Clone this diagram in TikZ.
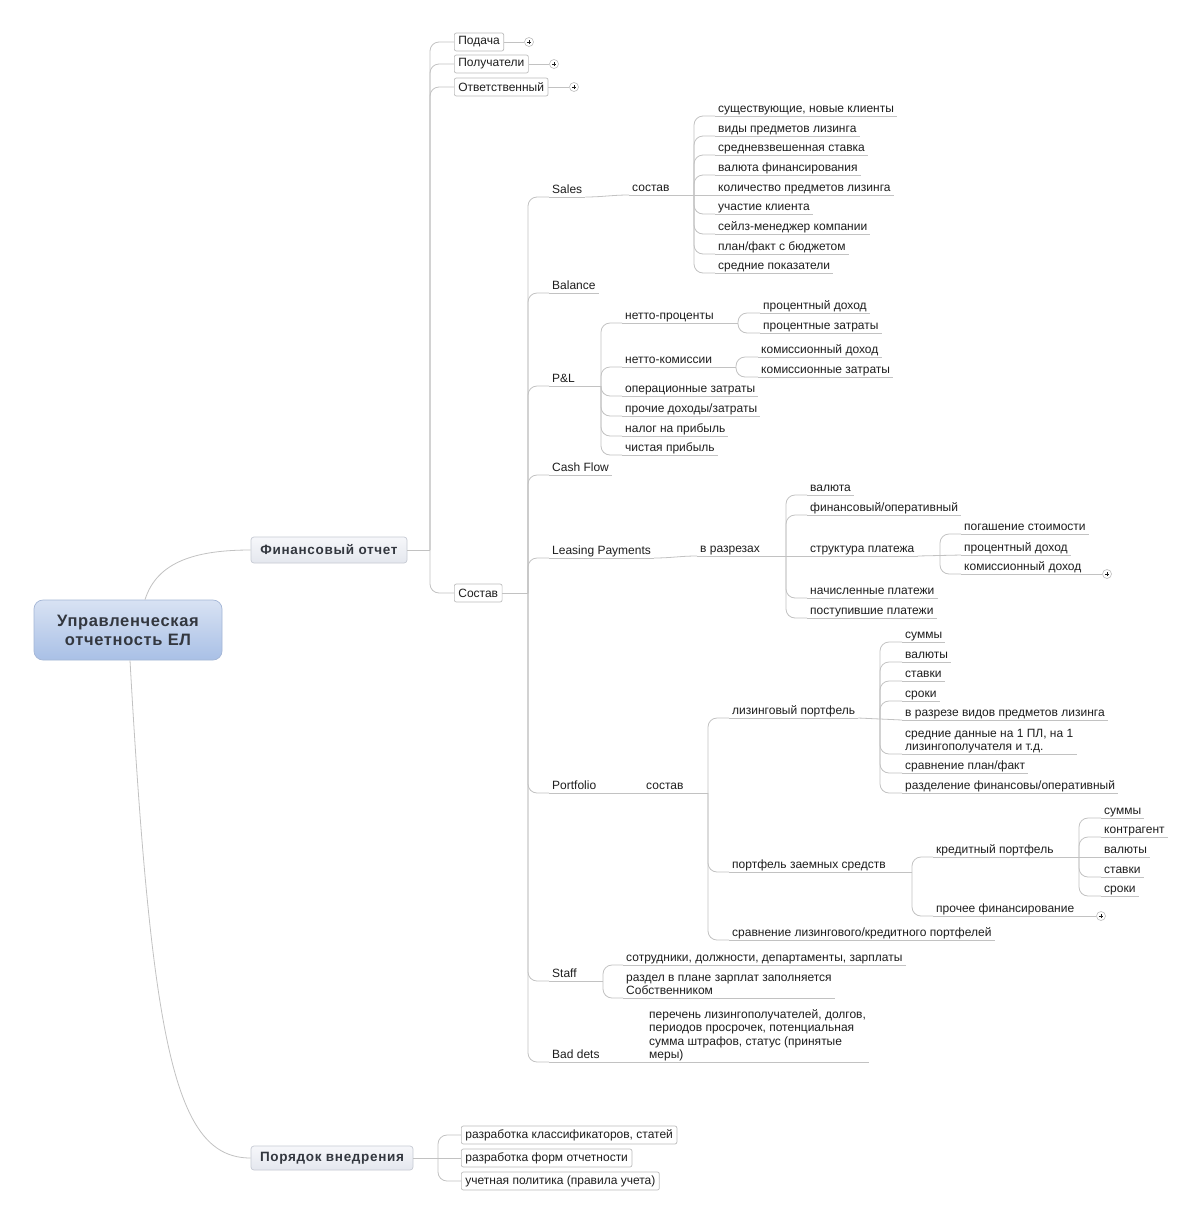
\documentclass[tikz,border=0pt]{standalone}
\usepackage{fontspec}
\setmainfont{Liberation Sans}

\definecolor{lgray}{HTML}{C2C2C2}
\definecolor{bgray}{HTML}{BDBDBD}
\definecolor{txt}{HTML}{1E1E1E}
\definecolor{rtop}{HTML}{D8E2F3}
\definecolor{rbot}{HTML}{A9C0E6}
\definecolor{rline}{HTML}{A4B6D6}
\definecolor{ttop}{HTML}{F6F7FA}
\definecolor{tbot}{HTML}{E4E7EE}
\definecolor{tline}{HTML}{C6CAD3}
\definecolor{ttxt}{HTML}{33373F}

\newcommand\leaffont{\fontsize{12}{13.5}\selectfont}
\newcommand\topicfont{\fontsize{13.5}{15}\selectfont\bfseries\addfontfeatures{LetterSpace=5}}
\newcommand\rootfont{\fontsize{16.5}{19}\selectfont\bfseries\addfontfeatures{LetterSpace=4}}
\newcommand\ulstrut{\rule[-3.2pt]{0pt}{10pt}}

\tikzset{
    lnk/.style={draw=lgray, line width=0.8pt},
    elbow/.style={lnk, rounded corners=9pt},
    uline/.style={draw=lgray, line width=0.8pt},
    leaf/.style={font=\leaffont, text=txt, inner xsep=3pt, inner ysep=0pt,
        anchor=south west, align=left, execute at end node=\ulstrut,
        append after command={(\tikzlastnode.south west) edge[uline] (\tikzlastnode.south east)}},
    tbox/.style={font=\leaffont, text=txt, draw=bgray, fill=white, rounded corners=2pt,
        inner xsep=4pt, inner ysep=0pt, minimum height=18pt, anchor=west, line width=0.7pt},
    topic/.style={font=\topicfont, text=ttxt, draw=tline, top color=ttop, bottom color=tbot,
        rounded corners=3pt, inner sep=0pt, line width=0.7pt},
    rootbox/.style={font=\rootfont, text=ttxt, draw=rline, top color=rtop, bottom color=rbot,
        rounded corners=9pt, align=center, minimum width=188pt, minimum height=60pt, line width=0.7pt},
    plus/.style={circle, draw=bgray, fill=white, minimum size=9pt, inner sep=0pt, line width=0.6pt,
        path picture={\draw[txt, line width=0.6pt]
            ([xshift=-2.2pt]path picture bounding box.center) -- ([xshift=2.2pt]path picture bounding box.center)
            ([yshift=-2.2pt]path picture bounding box.center) -- ([yshift=2.2pt]path picture bounding box.center);}}
}

\begin{document}
\begin{tikzpicture}[x=1pt, y=-1pt]
    \useasboundingbox[fill=white] (0,0) rectangle (1200,1224);

    % main topics
    \node[rootbox] (root) at (128,630) {Управленческая\\отчетность ЕЛ};
    \node[topic, minimum width=156pt, minimum height=26pt] (fin) at (329,550) {Финансовый отчет};
    \node[topic, minimum width=162pt, minimum height=24pt] (impl) at (332,1158) {Порядок внедрения};

    \draw[lnk] ([xshift=17pt]root.north) .. controls +(12,-38) and +(-55,0) .. (fin.west);
    \draw[lnk] ([xshift=2pt]root.south) .. controls +(22,390) and +(-75,0) .. (impl.west);

    % Финансовый отчет
    \node[tbox] (podacha) at (454,42) {Подача};
    \node[tbox] (poluch) at (454,64) {Получатели};
    \node[tbox] (otvet) at (454,87) {Ответственный};
    \node[tbox] (sostav) at (454,593) {Состав};
    \node[plus] (pl1) at (529,42) {};
    \node[plus] (pl2) at (554,64) {};
    \node[plus] (pl3) at (574,87) {};
    \draw[lnk] (podacha.east) -- (pl1);
    \draw[lnk] (poluch.east) -- (pl2);
    \draw[lnk] (otvet.east) -- (pl3);

    \coordinate (jfin) at (430,0 |- fin.east);
    \draw[lnk] (fin.east) -- (jfin);
    \draw[elbow] (jfin) |- (podacha.west);
    \draw[elbow] (jfin) |- (poluch.west);
    \draw[elbow] (jfin) |- (otvet.west);
    \draw[elbow] (jfin) |- (sostav.west);

    % Состав
    \node[leaf] (sales) at (549,197) {Sales};
    \node[leaf] (balance) at (549,293) {Balance};
    \node[leaf] (pnl) at (549,386) {P\&L};
    \node[leaf] (cash) at (549,475) {Cash Flow};
    \node[leaf] (lease) at (549,558) {Leasing Payments};
    \node[leaf] (portf) at (549,793) {Portfolio};
    \node[leaf] (staff) at (549,981) {Staff};
    \node[leaf] (bad) at (549,1062) {Bad dets};

    \coordinate (jsost) at (528,0 |- sostav.east);
    \draw[lnk] (sostav.east) -- (jsost);
    \draw[elbow] (jsost) |- (sales.south west);
    \draw[elbow] (jsost) |- (balance.south west);
    \draw[elbow] (jsost) |- (pnl.south west);
    \draw[elbow] (jsost) |- (cash.south west);
    \draw[elbow] (jsost) |- (lease.south west);
    \draw[elbow] (jsost) |- (portf.south west);
    \draw[elbow] (jsost) |- (staff.south west);
    \draw[elbow] (jsost) |- (bad.south west);

    % Sales
    \node[leaf] (ssost) at (629,195) {состав};
    \draw[lnk] (sales.south east) to[out=0,in=180] (ssost.south west);
    \node[leaf] (s1) at (715,116) {существующие, новые клиенты};
    \node[leaf] (s2) at (715,136) {виды предметов лизинга};
    \node[leaf] (s3) at (715,155) {средневзвешенная ставка};
    \node[leaf] (s4) at (715,175) {валюта финансирования};
    \node[leaf] (s5) at (715,195) {количество предметов лизинга};
    \node[leaf] (s6) at (715,214) {участие клиента};
    \node[leaf] (s7) at (715,234) {сейлз-менеджер компании};
    \node[leaf] (s8) at (715,254) {план/факт с бюджетом};
    \node[leaf] (s9) at (715,273) {средние показатели};
    \coordinate (jsal) at (694,0 |- ssost.south east);
    \draw[lnk] (ssost.south east) -- (s5.south west);
    \draw[elbow] (jsal) |- (s1.south west);
    \draw[elbow] (jsal) |- (s2.south west);
    \draw[elbow] (jsal) |- (s3.south west);
    \draw[elbow] (jsal) |- (s4.south west);
    \draw[elbow] (jsal) |- (s6.south west);
    \draw[elbow] (jsal) |- (s7.south west);
    \draw[elbow] (jsal) |- (s8.south west);
    \draw[elbow] (jsal) |- (s9.south west);

    % P&L
    \node[leaf] (netp) at (622,323) {нетто-проценты};
    \node[leaf] (netk) at (622,367) {нетто-комиссии};
    \node[leaf] (oper) at (622,396) {операционные затраты};
    \node[leaf] (proch) at (622,416) {прочие доходы/затраты};
    \node[leaf] (nalog) at (622,436) {налог на прибыль};
    \node[leaf] (chist) at (622,455) {чистая прибыль};
    \coordinate (jpnl) at (601,0 |- pnl.south east);
    \draw[lnk] (pnl.south east) -- (jpnl);
    \draw[elbow] (jpnl) |- (netp.south west);
    \draw[elbow] (jpnl) |- (netk.south west);
    \draw[elbow] (jpnl) |- (oper.south west);
    \draw[elbow] (jpnl) |- (proch.south west);
    \draw[elbow] (jpnl) |- (nalog.south west);
    \draw[elbow] (jpnl) |- (chist.south west);

    \node[leaf] (pdoh) at (760,313) {процентный доход};
    \node[leaf] (pzat) at (760,333) {процентные затраты};
    \coordinate (jnetp) at (738,0 |- netp.south east);
    \draw[lnk] (netp.south east) -- (jnetp);
    \draw[elbow] (jnetp) |- (pdoh.south west);
    \draw[elbow] (jnetp) |- (pzat.south west);

    \node[leaf] (kdoh) at (758,357) {комиссионный доход};
    \node[leaf] (kzat) at (758,377) {комиссионные затраты};
    \coordinate (jnetk) at (736,0 |- netk.south east);
    \draw[lnk] (netk.south east) -- (jnetk);
    \draw[elbow] (jnetk) |- (kdoh.south west);
    \draw[elbow] (jnetk) |- (kzat.south west);

    % Leasing Payments
    \node[leaf] (razr) at (697,556) {в разрезах};
    \draw[lnk] (lease.south east) to[out=0,in=180] (razr.south west);
    \node[leaf] (val) at (807,495) {валюта};
    \node[leaf] (finop) at (807,515) {финансовый/оперативный};
    \node[leaf] (strukt) at (807,556) {структура платежа};
    \node[leaf] (nachisl) at (807,598) {начисленные платежи};
    \node[leaf] (postup) at (807,618) {поступившие платежи};
    \coordinate (jrazr) at (786,0 |- razr.south east);
    \draw[lnk] (razr.south east) -- (strukt.south west);
    \draw[elbow] (jrazr) |- (val.south west);
    \draw[elbow] (jrazr) |- (finop.south west);
    \draw[elbow] (jrazr) |- (nachisl.south west);
    \draw[elbow] (jrazr) |- (postup.south west);

    \node[leaf] (pogash) at (961,534) {погашение стоимости};
    \node[leaf] (lpdoh) at (961,555) {процентный доход};
    \node[leaf] (lkdoh) at (961,574) {комиссионный доход};
    \node[plus] (pl4) at (1107,574) {};
    \draw[lnk] (lkdoh.south east) -- (pl4);
    \coordinate (jstr) at (940,0 |- strukt.south east);
    \draw[lnk] (strukt.south east) -- (lpdoh.south west);
    \draw[elbow] (jstr) |- (pogash.south west);
    \draw[elbow] (jstr) |- (lkdoh.south west);

    % Portfolio
    \node[leaf] (psost) at (643,793) {состав};
    \draw[lnk] (portf.south east) -- (psost.south west);
    \node[leaf] (lport) at (729,718) {лизинговый портфель};
    \node[leaf] (zport) at (729,872) {портфель заемных средств};
    \node[leaf] (sravn) at (729,940) {сравнение лизингового/кредитного портфелей};
    \coordinate (jpsost) at (708,0 |- psost.south east);
    \draw[lnk] (psost.south east) -- (jpsost);
    \draw[elbow] (jpsost) |- (lport.south west);
    \draw[elbow] (jpsost) |- (zport.south west);
    \draw[elbow] (jpsost) |- (sravn.south west);

    \node[leaf] (l1) at (902,642) {суммы};
    \node[leaf] (l2) at (902,662) {валюты};
    \node[leaf] (l3) at (902,681) {ставки};
    \node[leaf] (l4) at (902,701) {сроки};
    \node[leaf] (l5) at (902,720) {в разрезе видов предметов лизинга};
    \node[leaf] (l6) at (902,754) {средние данные на 1 ПЛ, на 1\\лизингополучателя и т.д.};
    \node[leaf] (l7) at (902,773) {сравнение план/факт};
    \node[leaf] (l8) at (902,793) {разделение финансовы/оперативный};
    \coordinate (jlport) at (880,0 |- lport.south east);
    \draw[lnk] (lport.south east) -- (l5.south west);
    \draw[elbow] (jlport) |- (l1.south west);
    \draw[elbow] (jlport) |- (l2.south west);
    \draw[elbow] (jlport) |- (l3.south west);
    \draw[elbow] (jlport) |- (l4.south west);
    \draw[elbow] (jlport) |- (l6.south west);
    \draw[elbow] (jlport) |- (l7.south west);
    \draw[elbow] (jlport) |- (l8.south west);

    \node[leaf] (kport) at (933,857) {кредитный портфель};
    \node[leaf] (pfin) at (933,916) {прочее финансирование};
    \node[plus] (pl5) at (1101,916) {};
    \draw[lnk] (pfin.south east) -- (pl5);
    \coordinate (jzport) at (912,0 |- zport.south east);
    \draw[lnk] (zport.south east) -- (jzport);
    \draw[elbow] (jzport) |- (kport.south west);
    \draw[elbow] (jzport) |- (pfin.south west);

    \node[leaf] (k1) at (1101,818) {суммы};
    \node[leaf] (k2) at (1101,837) {контрагент};
    \node[leaf] (k3) at (1101,857) {валюты};
    \node[leaf] (k4) at (1101,877) {ставки};
    \node[leaf] (k5) at (1101,896) {сроки};
    \coordinate (jkport) at (1079,0 |- kport.south east);
    \draw[lnk] (kport.south east) -- (k3.south west);
    \draw[elbow] (jkport) |- (k1.south west);
    \draw[elbow] (jkport) |- (k2.south west);
    \draw[elbow] (jkport) |- (k4.south west);
    \draw[elbow] (jkport) |- (k5.south west);

    % Staff, Bad dets
    \node[leaf] (st1) at (623,965) {сотрудники, должности, департаменты, зарплаты};
    \node[leaf] (st2) at (623,998) {раздел в плане зарплат заполняется\\Собственником};
    \coordinate (jstaff) at (603,0 |- staff.south east);
    \draw[lnk] (staff.south east) -- (jstaff);
    \draw[elbow] (jstaff) |- (st1.south west);
    \draw[elbow] (jstaff) |- (st2.south west);

    \node[leaf] (bd1) at (646,1062) {перечень лизингополучателей, долгов,\\периодов просрочек, потенциальная\\сумма штрафов, статус (принятые\\меры)};
    \draw[lnk] (bad.south east) -- (bd1.south west);

    % Порядок внедрения
    \node[tbox] (i1) at (461,1135) {разработка классификаторов, статей};
    \node[tbox] (i2) at (461,1158) {разработка форм отчетности};
    \node[tbox] (i3) at (461,1181) {учетная политика (правила учета)};
    \coordinate (jimpl) at (438,0 |- impl.east);
    \draw[lnk] (impl.east) -- (i2.west);
    \draw[elbow] (jimpl) |- (i1.west);
    \draw[elbow] (jimpl) |- (i3.west);
\end{tikzpicture}
\end{document}
